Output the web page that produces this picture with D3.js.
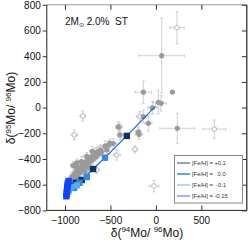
<!DOCTYPE html>
<html><head><meta charset="utf-8">
<script src="https://cdn.jsdelivr.net/npm/d3@7"></script>
<style>body{margin:0;background:#fff}svg{display:block;font-family:"Liberation Sans",Arial,sans-serif}</style>
</head><body><div id="c"></div>
<script>
// ---- data ----
const xTicks = [-1000, -500, 0, 500];
const yTicks = [-800, -600, -400, -200, 0, 200, 400, 600, 800];
// filled grains: x, y, xerr, yerr
const filledX = [64, -138, 182, 27, 56, -39, -138, -83, -186, 235, -193, -395, -413, -504,
  -940,-925,-910,-900,-890,-880,-870,-860,-850,-845,-835,-825,-815,-805,-800,-790,-780,-770,-760,-750,-740,-730,-720,-710,-700,-690,-680,-670,-660,-650,-640,-630,-620,-610,-600,-700,-760,-820,-880,-860,-900,-940,-960,-780,-740,-560,-540,-520,-470,-910,-870];
const filledY = [404, 120, 121, 41, 33, -1, -71, -122, -208, -161, -190, -213, -150, -278,
  -560,-540,-555,-520,-545,-500,-530,-515,-490,-470,-505,-480,-455,-490,-440,-465,-430,-450,-420,-440,-405,-425,-395,-410,-380,-400,-370,-355,-385,-350,-365,-340,-355,-330,-345,-340,-380,-420,-460,-560,-580,-590,-575,-500,-470,-300,-330,-290,-280,-450,-430];
const filledXErr = [250, 90, 0, 60, 60, 50, 40, 40, 40, 190, 30, 30, 30, 20,
  30,30,30,40,30,30,40,30,30,40,30,30,40,30,30,40,30,30,40,30,30,40,30,30,40,30,30,40,30,30,40,30,30,40,30,30,40,30,30,30,30,30,30,40,30,40,30,30,40,30,30];
const filledYErr = [290, 87, 0, 90, 60, 50, 50, 60, 40, 117, 40, 40, 40, 30,
  30,40,30,40,30,40,30,40,30,40,30,40,30,40,30,40,30,40,30,40,30,40,30,40,30,40,30,40,30,40,30,40,30,40,30,40,30,40,30,30,30,30,30,40,30,40,30,30,40,30,30];
// open grains
const openX = [232, 643, -21, -897, -805, -230, -523, -431, -651, -769, -400, -175];
const openY = [622, -167, -610, -213, -65, -325, -291, -369, -486, -433, -150, -71];
const openXErr = [80, 128, 55, 37, 30, 30, 30, 40, 30, 30, 30, 40];
const openYErr = [125, 71, 45, 37, 40, 30, 30, 40, 30, 30, 30, 40];
// model series ([Fe/H])
const fehLabels = ["[Fe/H] = +0.1", "[Fe/H] =   0.0", "[Fe/H] =  -0.1", "[Fe/H] = -0.15"];
const model01X = [-880, -816, -690, -320];
const model01Y = [-585, -563, -478, -220];
const model00X = [-960, -900, -840, -760, -560];
const model00Y = [-640, -625, -585, -540, -390];
const modelm01X = [-965, -935, -870];
const modelm01Y = [-655, -620, -605];
const modelm015X = [-985, -982, -980, -977, -975, -972, -968, -960, -930, -816, -690, -560, -320, -3];
const modelm015Y = [-690, -672, -655, -640, -622, -605, -588, -572, -590, -563, -478, -390, -220, 12];
const modelm015Sq = 8; // number of squares shown on the -0.15 track

// ---- drawing ----
const W = 249, H = 240;
const x = d3.scaleLinear().domain([-1200, 1000]).range([46.8, 246.8]);
const y = d3.scaleLinear().domain([-800, 800]).range([210.4, 4.8]);
const svg = d3.select("#c").append("svg").attr("width", W).attr("height", H);

const ebColor = "#c4c4c4";
function errorBars(g, xs, ys, xe, ye) {
  xs.forEach((v, i) => {
    if (xe[i] > 0) {
      g.append("line").attr("x1", x(v - xe[i])).attr("x2", x(v + xe[i])).attr("y1", y(ys[i])).attr("y2", y(ys[i]))
        .attr("stroke", ebColor).attr("stroke-width", 0.8);
      [v - xe[i], v + xe[i]].forEach(e => g.append("line").attr("x1", x(e)).attr("x2", x(e)).attr("y1", y(ys[i]) - 1.5).attr("y2", y(ys[i]) + 1.5).attr("stroke", ebColor).attr("stroke-width", 0.8));
    }
    if (ye[i] > 0) {
      g.append("line").attr("x1", x(v)).attr("x2", x(v)).attr("y1", y(ys[i] - ye[i])).attr("y2", y(ys[i] + ye[i]))
        .attr("stroke", ebColor).attr("stroke-width", 0.8);
      [ys[i] - ye[i], ys[i] + ye[i]].forEach(e => g.append("line").attr("x1", x(v) - 1.5).attr("x2", x(v) + 1.5).attr("y1", y(e)).attr("y2", y(e)).attr("stroke", ebColor).attr("stroke-width", 0.8));
    }
  });
}
const gEb = svg.append("g");
errorBars(gEb, filledX, filledY, filledXErr, filledYErr);
errorBars(gEb, openX, openY, openXErr, openYErr);

svg.append("g").selectAll("circle").data(openX).join("circle")
  .attr("cx", d => x(d)).attr("cy", (d, i) => y(openY[i])).attr("r", 2.3)
  .attr("fill", "#fff").attr("stroke", "#a8a8a8").attr("stroke-width", 0.8);
svg.append("g").selectAll("circle").data(filledX).join("circle")
  .attr("cx", d => x(d)).attr("cy", (d, i) => y(filledY[i])).attr("r", 2.6)
  .attr("fill", "#9a9a9a");

const line = d3.line().x(d => x(d[0])).y(d => y(d[1]));
const series = [
  {xs: model01X, ys: model01Y, line: "#7d8ea3", sq: "#0b3460", n: model01X.length},
  {xs: model00X, ys: model00Y, line: "#3a90e8", sq: "#2f8ae6", n: model00X.length},
  {xs: modelm01X, ys: modelm01Y, line: "#9fd0f7", sq: "#5aaaf0", n: modelm01X.length},
  {xs: modelm015X, ys: modelm015Y, line: "#1a55ff", sq: "#0c44ff", n: modelm015Sq}
];
const gm = svg.append("g");
gm.append("path").datum(modelm015X.map((v, i) => [v, modelm015Y[i]])).attr("d", line)
  .attr("fill", "none").attr("stroke", "#1a55ff").attr("stroke-width", 1.1);
series.forEach(s => {
  gm.selectAll(null).data(s.xs.slice(0, s.n)).join("rect")
    .attr("x", d => x(d) - 3.2).attr("y", (d, i) => y(s.ys[i]) - 3.2)
    .attr("width", 6.4).attr("height", 6.4).attr("fill", s.sq);
});

// frame and axes
const fr = svg.append("g");
fr.append("line").attr("x1", 46.8).attr("x2", 246.8).attr("y1", 4.8).attr("y2", 4.8).attr("stroke", "#999").attr("stroke-width", 1);
fr.append("line").attr("x1", 246.8).attr("x2", 246.8).attr("y1", 4.8).attr("y2", 210.4).attr("stroke", "#222").attr("stroke-width", 1.2);
fr.append("line").attr("x1", 46.8).attr("x2", 46.8).attr("y1", 4.8).attr("y2", 210.4).attr("stroke", "#222").attr("stroke-width", 1);
fr.append("line").attr("x1", 46.8).attr("x2", 246.8).attr("y1", 210.4).attr("y2", 210.4).attr("stroke", "#222").attr("stroke-width", 1);

const xAx = svg.append("g").attr("transform", "translate(0,210.4)")
  .call(d3.axisBottom(x).tickValues(xTicks).tickSize(-5).tickPadding(9).tickFormat(d3.format("d")));
const xAxT = svg.append("g").attr("transform", "translate(0,4.8)")
  .call(d3.axisTop(x).tickValues(xTicks).tickSize(-5).tickFormat(""));
const yAx = svg.append("g").attr("transform", "translate(46.8,0)")
  .call(d3.axisLeft(y).tickValues(yTicks).tickSize(4).tickPadding(2).tickFormat(d3.format("d")));
const yAxR = svg.append("g").attr("transform", "translate(246.8,0)")
  .call(d3.axisRight(y).tickValues(yTicks).tickSize(-5).tickFormat(""));
[xAx, xAxT, yAx, yAxR].forEach(a => {
  a.select(".domain").remove();
  a.selectAll("line").attr("stroke", "#333");
  a.selectAll("text").attr("font-size", 10).attr("fill", "#111").attr("font-family", "Liberation Sans, Arial, sans-serif");
});
xAx.selectAll("text").attr("dy", "0.5em");

// axis titles
const xt = svg.append("text").attr("x", 147).attr("y", 236.5).attr("text-anchor", "middle").attr("font-size", 12).attr("fill", "#111");
xt.append("tspan").text("δ(");
xt.append("tspan").text("94").attr("font-size", 8).attr("dy", -4.5);
xt.append("tspan").text("Mo/ ").attr("dy", 4.5);
xt.append("tspan").text("96").attr("font-size", 8).attr("dy", -4.5);
xt.append("tspan").text("Mo)").attr("dy", 4.5);

const yt = svg.append("text").attr("transform", "translate(15,108) rotate(-90)").attr("text-anchor", "middle").attr("font-size", 12).attr("fill", "#111");
yt.append("tspan").text("δ(");
yt.append("tspan").text("95").attr("font-size", 8).attr("dy", -4.5);
yt.append("tspan").text("Mo/ ").attr("dy", 4.5);
yt.append("tspan").text("96").attr("font-size", 8).attr("dy", -4.5);
yt.append("tspan").text("Mo)").attr("dy", 4.5);

// annotation
const an = svg.append("text").attr("x", 65).attr("y", 25).attr("font-size", 10).attr("fill", "#111")
  .attr("xml:space", "preserve").style("white-space", "pre");
an.append("tspan").text("2M");
an.append("tspan").text("⊙").attr("font-size", 6).attr("dy", 2);
an.append("tspan").text(" 2.0%  ST").attr("dy", -2);

// legend
const lg = svg.append("g");
lg.append("rect").attr("x", 174.5).attr("y", 155.5).attr("width", 68).attr("height", 47.5)
  .attr("fill", "#fff").attr("stroke", "#888").attr("stroke-width", 1);
const legRowsY = [163, 174, 185, 196];
series.forEach((s, i) => {
  lg.append("line").attr("x1", 177).attr("x2", 190).attr("y1", legRowsY[i]).attr("y2", legRowsY[i])
    .attr("stroke", i === 3 ? "#8aa2fa" : s.line).attr("stroke-width", 1.6);
  lg.append("text").attr("x", 192).attr("y", legRowsY[i] + 2).attr("font-size", 5.8).attr("fill", "#333")
    .attr("xml:space", "preserve").style("white-space", "pre").text(fehLabels[i]);
});
</script></body></html>
